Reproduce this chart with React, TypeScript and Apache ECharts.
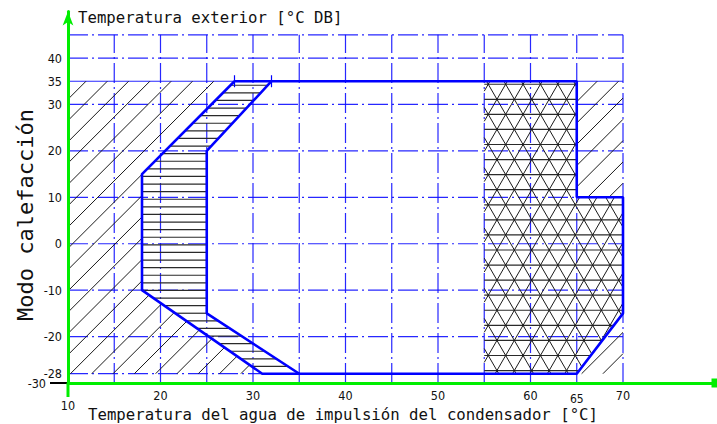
import React, { useEffect, useRef } from 'react';
import * as echarts from 'echarts';

// ---- data ----
const xLabelValues = [10, 20, 30, 40, 50, 60, 65, 70];
const yLabelValues = [-28, -20, -10, 0, 10, 20, 30, 35, 40];
const yBaseLabel = -30;
const hGridDashed = [45, 40, 30, 20, 10, 0, -10, -20];
const vGridDashed = [15, 20, 25, 30, 35, 40, 45, 50, 55, 60, 65, 70];
const envelope = [[28, 35], [65, 35], [65, 10], [70, 10], [70, -15], [65, -28], [31, -28], [18, -10], [18, 15], [28, 35]];
const innerBoundary = [[32, 35], [25, 20], [25, -15], [35, -28]];
const horizHatchZone = [[28, 35], [32, 35], [25, 20], [25, -15], [35, -28], [31, -28], [18, -10], [18, 15]];
const leftDiagZone = [[10, 35], [28, 35], [18, 15], [18, -10], [31, -28], [10, -28]];
const rightDiagZone = [[65, 35], [70, 35], [70, 10], [65, 10]];
const cornerDiagZone = [[65, -28], [70, -15], [70, -28]];
const triangleZone = [[55, 35], [65, 35], [65, 10], [70, 10], [70, -15], [65, -28], [55, -28]];
const topTicks = [28, 32];

const xTitle = 'Temperatura del agua de impulsión del condensador [°C]';
const yTitleTop = 'Temperatura exterior [°C DB]';
const yTitleSide = 'Modo calefacción';

// grid segments built from arrays: [x1, y1, x2, y2, solidFlag]
const gridSegments: number[][] = [
  ...hGridDashed.map((y) => [10, y, 70, y, 0]),
  [10, -28, 65, -28, 0],
  [10, 35, 70, 35, 1],
  ...vGridDashed.map((x) => [x, -30, x, 45, 0]),
];

const zones = [
  { poly: leftDiagZone, kind: 'diag' },
  { poly: rightDiagZone, kind: 'diag' },
  { poly: cornerDiagZone, kind: 'diag' },
  { poly: horizHatchZone, kind: 'horiz' },
  { poly: triangleZone, kind: 'tri' },
];

const cross = (a: number[], b: number[]) => a[0] * b[1] - a[1] * b[0];

function hatchLines(pts: number[][], p0: number[], n: number[], sp: number, style: any) {
  const d = [-n[1], n[0]];
  let kmin = Infinity, kmax = -Infinity;
  for (const p of pts) {
    const pr = ((p[0] - p0[0]) * n[0] + (p[1] - p0[1]) * n[1]) / sp;
    kmin = Math.min(kmin, pr);
    kmax = Math.max(kmax, pr);
  }
  const out: any[] = [];
  for (let k = Math.ceil(kmin); k <= Math.floor(kmax); k++) {
    const base = [p0[0] + n[0] * k * sp, p0[1] + n[1] * k * sp];
    const ts: number[] = [];
    for (let i = 0; i < pts.length; i++) {
      const a = pts[i];
      const b = pts[(i + 1) % pts.length];
      const e = [b[0] - a[0], b[1] - a[1]];
      const den = cross(d, e);
      if (Math.abs(den) < 1e-9) continue;
      const w = [a[0] - base[0], a[1] - base[1]];
      const t = cross(w, e) / den;
      const u = cross(w, d) / den;
      if (u >= 0 && u < 1) ts.push(t);
    }
    ts.sort((x, y) => x - y);
    for (let j = 0; j + 1 < ts.length; j += 2) {
      out.push({
        type: 'line',
        shape: {
          x1: base[0] + d[0] * ts[j], y1: base[1] + d[1] * ts[j],
          x2: base[0] + d[0] * ts[j + 1], y2: base[1] + d[1] * ts[j + 1],
        },
        style,
      });
    }
  }
  return out;
}

const labelFont = "'Liberation Sans Narrow', 'DejaVu Sans Condensed', sans-serif";
const monoFont = "'DejaVu Sans Mono', 'Liberation Mono', monospace";

export default function App() {
  const ref = useRef<HTMLDivElement>(null);
  useEffect(() => {
    const chart = echarts.init(ref.current as HTMLDivElement, null, { renderer: 'svg' });
    const option: any = {
      animation: false,
      backgroundColor: '#ffffff',
      grid: { left: 68, right: 1.5, top: 11.6, bottom: 41, containLabel: false },
      xAxis: {
        type: 'value', min: 10, max: 80, z: 10,
        axisLine: { show: true, onZero: false, lineStyle: { color: '#00ee00', width: 3 }, symbol: ['none', 'rect'], symbolSize: [9, 8] },
        axisTick: { show: false },
        splitLine: { show: false },
        axisLabel: {
          customValues: xLabelValues, margin: 6, color: '#111', fontFamily: labelFont, fontSize: 12.5,
          formatter: (v: number) => (v === 10 ? '{lo|10}' : v === 65 ? '{mid|65}' : '{n|' + v + '}'),
          rich: {
            n: { fontFamily: labelFont, fontSize: 12.5, color: '#111' },
            lo: { fontFamily: labelFont, fontSize: 12.5, color: '#111', padding: [10, 0, 0, 0] },
            mid: { fontFamily: labelFont, fontSize: 12, color: '#111', padding: [4, 0, 0, 0] },
          },
        },
      },
      yAxis: {
        type: 'value', min: -30, max: 50, z: 10,
        axisLine: { show: true, onZero: false, lineStyle: { color: '#00ee00', width: 3 }, symbol: ['none', 'arrow'], symbolSize: [8, 14] },
        axisTick: { show: false },
        splitLine: { show: false },
        axisLabel: {
          customValues: yLabelValues, margin: 6, color: '#111', fontFamily: labelFont, fontSize: 12.5,
        },
      },
      graphic: [
        { type: 'text', x: 78, y: 17, style: { text: yTitleTop, font: `15.7px ${monoFont}`, fill: '#111', verticalAlign: 'middle' } },
        { type: 'text', x: 88, y: 414, style: { text: xTitle, font: `15.7px ${monoFont}`, fill: '#111', verticalAlign: 'middle' } },
        { type: 'text', x: 25, y: 215, rotation: Math.PI / 2, style: { text: yTitleSide, font: `22px ${monoFont}`, fill: '#111', align: 'center', verticalAlign: 'middle' } },
      ],
      series: [
        {
          type: 'custom', coordinateSystem: 'cartesian2d', silent: true, clip: false, z: 1,
          data: gridSegments,
          renderItem: (params: any, api: any) => {
            const a = api.coord([api.value(0), api.value(1)]);
            const b = api.coord([api.value(2), api.value(3)]);
            const solid = api.value(4) === 1;
            return {
              type: 'line',
              shape: { x1: a[0], y1: a[1], x2: b[0], y2: b[1] },
              style: { stroke: '#1010ff', lineWidth: 1.2, lineDash: solid ? null : [20, 4, 2, 4], opacity: 0.9 },
            };
          },
        },
        {
          type: 'custom', coordinateSystem: 'cartesian2d', silent: true, clip: false, z: 2,
          data: zones.map((zn, i) => [zn.poly[0][0], zn.poly[0][1], i]),
          renderItem: (params: any, api: any) => {
            const zn = zones[api.value(2)];
            const pts = zn.poly.map((p) => api.coord(p));
            let children: any[] = [];
            if (zn.kind === 'diag') {
              const o = api.coord([10, 35]);
              const r = Math.SQRT1_2;
              children = hatchLines(pts, [o[0] + 18, o[1]], [r, r], 21.3 * r, { stroke: '#1a1a1a', lineWidth: 1 });
            } else if (zn.kind === 'horiz') {
              const o = api.coord([28, 35]);
              children = hatchLines(pts, [o[0], o[1] + 4], [0, 1], 7.6, { stroke: '#2a2a2a', lineWidth: 1.2 });
            } else {
              const o = api.coord([55, 35]);
              const p0 = [o[0] + 4, o[1] + 3];
              const s = 17.4;
              const h = s * 0.8660254;
              const st = { stroke: '#1a1a1a', lineWidth: 1 };
              children = [
                ...hatchLines(pts, p0, [0, 1], h, { stroke: '#2a2a2a', lineWidth: 1.2 }),
                ...hatchLines(pts, p0, [0.8660254, -0.5], h, st),
                ...hatchLines(pts, p0, [0.8660254, 0.5], h, st),
              ];
            }
            return { type: 'group', children };
          },
        },
        {
          type: 'custom', coordinateSystem: 'cartesian2d', silent: true, clip: false, z: 6,
          data: topTicks.map((x) => [x, 35]),
          renderItem: (params: any, api: any) => {
            const c = api.coord([api.value(0), api.value(1)]);
            return { type: 'line', shape: { x1: c[0], y1: c[1] - 6, x2: c[0], y2: c[1] + 6 }, style: { stroke: '#0000ff', lineWidth: 1.2 } };
          },
        },
        {
          type: 'custom', coordinateSystem: 'cartesian2d', silent: true, clip: false, z: 6,
          data: [[10, yBaseLabel]],
          renderItem: (params: any, api: any) => {
            const c = api.coord([api.value(0), api.value(1)]);
            return {
              type: 'group',
              children: [
                { type: 'line', shape: { x1: c[0], y1: c[1], x2: c[0], y2: c[1] + 14 }, style: { stroke: '#00ee00', lineWidth: 3 } },
                { type: 'line', shape: { x1: c[0] - 18, y1: c[1], x2: c[0] - 1, y2: c[1] }, style: { stroke: '#000', lineWidth: 2 } },
                { type: 'text', x: c[0] - 22, y: c[1], style: { text: String(api.value(1)), font: `12.5px ${labelFont}`, fill: '#111', align: 'right', verticalAlign: 'middle' } },
              ],
            };
          },
        },
        {
          type: 'line', data: envelope, symbol: 'none', silent: true, clip: false, z: 5,
          lineStyle: { color: '#0000ff', width: 2.6 },
        },
        {
          type: 'line', data: innerBoundary, symbol: 'none', silent: true, clip: false, z: 5,
          lineStyle: { color: '#0000ff', width: 2.6 },
        },
      ],
    };
    chart.setOption(option);
    return () => chart.dispose();
  }, []);
  return <div ref={ref} style={{ position: 'fixed', left: 0, top: 0, width: 717, height: 424, background: '#fff' }} />;
}
